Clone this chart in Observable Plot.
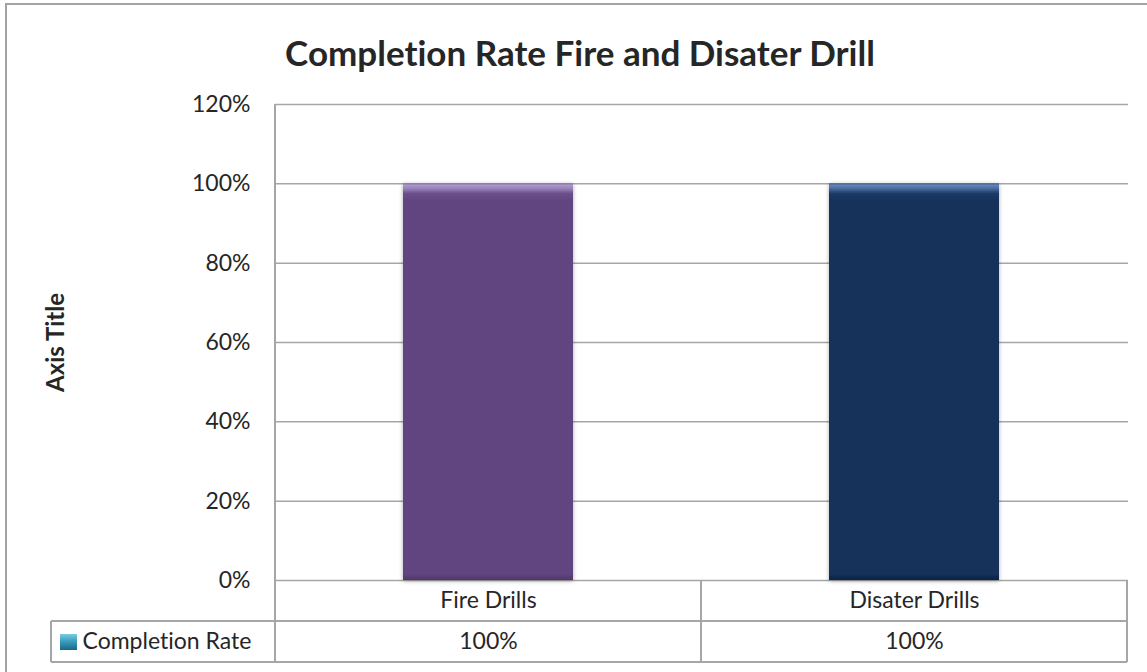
<!DOCTYPE html>
<html>
<head>
<meta charset="utf-8">
<script src="https://cdn.jsdelivr.net/npm/d3@7"></script>
<script src="https://cdn.jsdelivr.net/npm/@observablehq/plot@0.6"></script>
<style>
  html, body { margin: 0; padding: 0; background: #fff; }
  body { width: 1147px; height: 672px; position: relative; overflow: hidden; font-family: Lato, "Open Sans", sans-serif; font-variant-ligatures: none; font-feature-settings: "liga" 0; }
  svg text { font-variant-ligatures: none; font-feature-settings: "liga" 0; }
  #frame { position: absolute; left: 5px; top: 3px; width: 1200px; height: 720px; border: 2px solid #a3a3a3; box-sizing: border-box; }
  #title { position: absolute; left: 0; width: 1160px; top: 30px; text-align: center; font-weight: bold; font-size: 35px; line-height: 44px; color: #262626; }
  #chart { position: absolute; left: 0; top: 90px; }
</style>
</head>
<body>
<div id="frame"></div>
<div id="title"></div>
<div id="chart"></div>
<script>
// Chart content
const chartTitle = "Completion Rate Fire and Disater Drill";
const yAxisTitle = "Axis Title";
const seriesName = "Completion Rate";
const categories = ["Fire Drills", "Disater Drills"];
const completionRate = [1.0, 1.0];
const yTicks = [0, 0.2, 0.4, 0.6, 0.8, 1.0, 1.2];

// Bar styling (one gradient per category, bevelled top edge)
const barGradients = [
  { id: "bar-fire", stops: [[0, "#8a70ab"], [0.005, "#ab97c9"], [0.014, "#9480b6"], [0.026, "#6a4e8a"], [0.045, "#614580"], [0.985, "#614580"], [1, "#4f376a"]] },
  { id: "bar-disaster", stops: [[0, "#3a5d8d"], [0.005, "#6285b5"], [0.014, "#46699a"], [0.026, "#1b3a66"], [0.045, "#13305a"], [0.985, "#13305a"], [1, "#0d2343"]] }
];
const keyGradient = { id: "series-key", stops: [[0, "#7ccbe2"], [0.45, "#3a9ec0"], [1, "#1a6884"]] };
const lineColor = "#a6a6a6";
const textColor = "#262626";

document.getElementById("title").textContent = chartTitle;

const data = categories.map((category, i) => ({ category, value: completionRate[i], idx: i }));
const pct = d3.format(".0%");

const chart = Plot.plot({
  width: 1147,
  height: 582,
  marginLeft: 275,
  marginRight: 19,
  marginTop: 14,
  marginBottom: 92,
  style: { fontFamily: "Lato, sans-serif", fontSize: "23px", color: textColor, background: "transparent", overflow: "visible" },
  x: { domain: categories, paddingInner: 0.6, paddingOuter: 0.3, axis: null },
  y: { domain: [0, 1.2] },
  color: { type: "identity" },
  marks: [
    Plot.gridY(yTicks, { stroke: lineColor, strokeOpacity: 1, strokeWidth: 1.5 }),
    Plot.axisY(yTicks, { tickSize: 0, tickPadding: 25, tickFormat: pct, label: null, fontSize: 23 }),
    Plot.barY(data, { x: "category", y: "value", fill: d => `url(#${barGradients[d.idx].id})` }),
    // data table: category row and value row under the plot
    Plot.text(data, { x: "category", text: "category", frameAnchor: "bottom", lineAnchor: "middle", dy: 20 }),
    Plot.text(data, { x: "category", text: d => pct(d.value), frameAnchor: "bottom", lineAnchor: "middle", dy: 61 }),
    Plot.text([seriesName], { text: d => d, frameAnchor: "bottom-left", textAnchor: "start", lineAnchor: "middle", dx: -193, dy: 61 }),
    Plot.text([yAxisTitle], { text: d => d, frameAnchor: "left", rotate: -90, textAnchor: "middle", lineAnchor: "middle", dx: -219, fontWeight: "bold", fontSize: 24 })
  ]
});

document.getElementById("chart").appendChild(chart);

// gradients and shadow
const svg = d3.select(chart);
const defs = svg.insert("defs", ":first-child");
function addGradient(g) {
  const lg = defs.append("linearGradient").attr("id", g.id)
    .attr("x1", 0).attr("y1", 0).attr("x2", 0).attr("y2", 1);
  g.stops.forEach(([o, c]) => lg.append("stop").attr("offset", o).attr("stop-color", c));
}
barGradients.forEach(addGradient);
addGradient(keyGradient);
const shadow = defs.append("filter").attr("id", "bar-shadow")
  .attr("x", "-10%").attr("y", "-5%").attr("width", "120%").attr("height", "110%");
shadow.append("feDropShadow").attr("dx", 0).attr("dy", 1).attr("stdDeviation", 2.2)
  .attr("flood-color", "#000").attr("flood-opacity", 0.32);
svg.selectAll("g[aria-label='bar']").attr("filter", "url(#bar-shadow)");

// data table grid lines, from the chart's scales
const xs = chart.scale("x");
const ys = chart.scale("y");
const y0 = ys.apply(0);
const yTop = ys.apply(yTicks[yTicks.length - 1]);
const rowH = 41;
const keyW = 224;
const edges = [xs.apply(categories[0]) + xs.bandwidth / 2 - xs.step / 2]
  .concat(categories.map(c => xs.apply(c) + xs.bandwidth / 2 + xs.step / 2));
const left = edges[0];
const right = edges[edges.length - 1];
const keyLeft = left - keyW;

const table = svg.append("g").attr("stroke", lineColor).attr("stroke-width", 2).attr("fill", "none");
table.append("line").attr("x1", left).attr("x2", left).attr("y1", yTop).attr("y2", y0 + 2 * rowH);
edges.slice(1).forEach(e => table.append("line").attr("x1", e).attr("x2", e).attr("y1", y0).attr("y2", y0 + 2 * rowH));
[y0 + rowH, y0 + 2 * rowH].forEach(yy => table.append("line").attr("x1", keyLeft).attr("x2", right).attr("y1", yy).attr("y2", yy));
table.append("line").attr("x1", keyLeft).attr("x2", keyLeft).attr("y1", y0 + rowH).attr("y2", y0 + 2 * rowH);

// series key swatch
svg.append("rect")
  .attr("x", keyLeft + 9).attr("y", y0 + rowH + 13)
  .attr("width", 17).attr("height", 16)
  .attr("fill", `url(#${keyGradient.id})`);
</script>
</body>
</html>
